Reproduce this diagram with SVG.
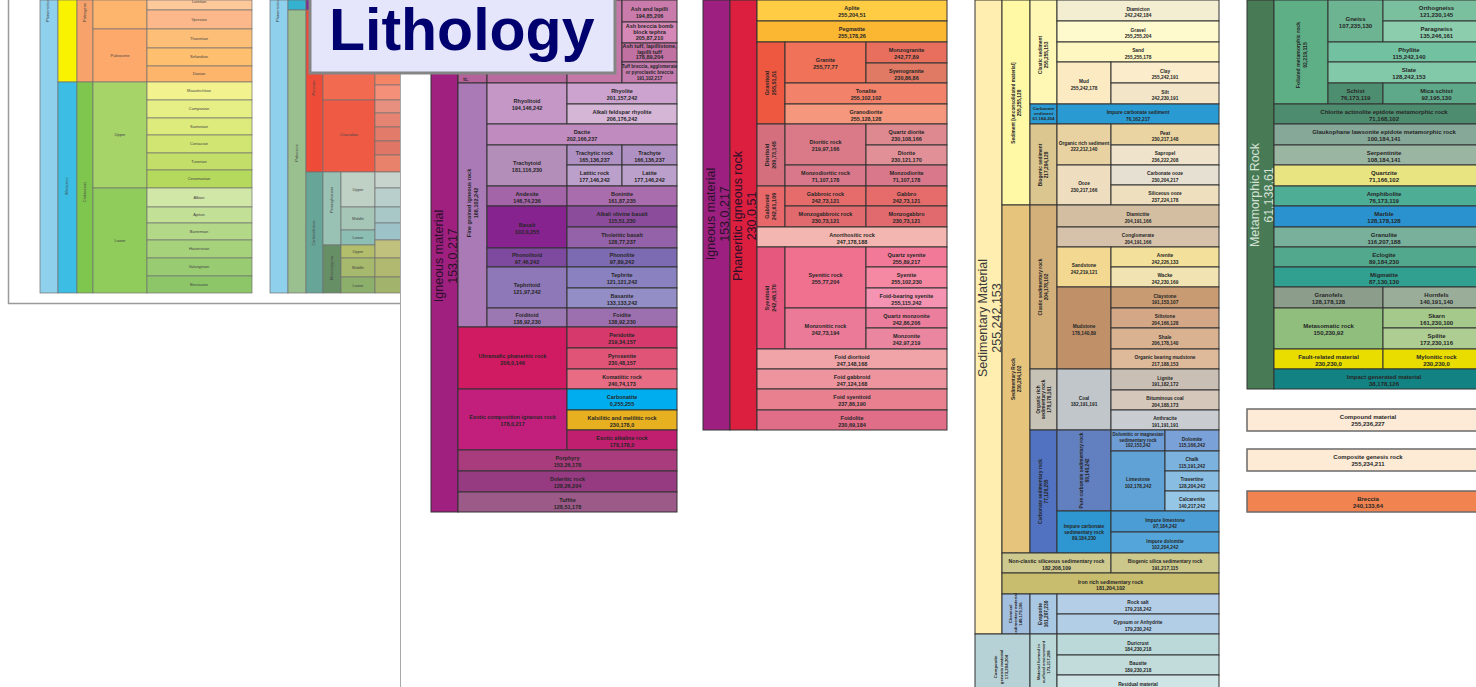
<svg xmlns="http://www.w3.org/2000/svg" width="1476" height="687" viewBox="0 0 1476 687">
<style>
.p rect{stroke:#333;stroke-width:1}
.p text{font-family:'Liberation Sans',Arial,sans-serif;font-weight:bold;fill:#262626;text-anchor:middle}
.s55 text{font-size:5.5px}
.s48 text{font-size:4.8px}
.s6 text{font-size:6px}
.p text.big{font-family:'Liberation Sans',Arial,sans-serif;font-weight:normal;font-size:12.5px;text-anchor:middle;fill:#2a102a}
.ts rect{stroke:#707070;stroke-width:0.7}
.ts text{font-family:'Liberation Sans',Arial,sans-serif;font-size:4px;fill:#444;text-anchor:middle}
.box rect{stroke:#6a6a6a;stroke-width:1.5}
</style>
<rect x="0" y="0" width="1476" height="687" fill="#ffffff"/>

<!-- background timescale pictures -->
<g id="timescale-1" class="ts">
<rect x="40" y="0" width="18" height="293" fill="#8FD0EC"/>
<text transform="translate(49,22) rotate(-90)" style="text-anchor:start">Phanerozoic</text>
<rect x="58" y="0" width="19" height="82" fill="#F9F200"/>
<rect x="58" y="82" width="19" height="211" fill="#3BBDE4"/>
<text transform="translate(68,186) rotate(-90)">Mesozoic</text>
<rect x="77" y="0" width="16" height="82" fill="#F7A26A"/>
<text transform="translate(86,22) rotate(-90)" style="text-anchor:start">Paleogene</text>
<rect x="77" y="82" width="16" height="211" fill="#7FC64E"/>
<text transform="translate(86,192) rotate(-90)">Cretaceous</text>
<rect x="93" y="0" width="54" height="29" fill="#FDB56E"/>
<rect x="93" y="29" width="54" height="53" fill="#FDA96B"/>
<text x="120" y="57">Paleocene</text>
<rect x="93" y="82" width="54" height="106" fill="#A6D468"/>
<text x="120" y="136">Upper</text>
<rect x="93" y="188" width="54" height="105" fill="#8FCC5C"/>
<text x="120" y="242">Lower</text>
<rect x="147" y="0" width="105" height="10" fill="#FDC89A"/>
<text x="199" y="3">Lutetian</text>
<rect x="147" y="10" width="105" height="19" fill="#FCB88A"/>
<text x="199" y="21">Ypresian</text>
<rect x="147" y="29" width="105" height="19" fill="#FDBF77"/>
<text x="199" y="40">Thanetian</text>
<rect x="147" y="48" width="105" height="18" fill="#FEBF6E"/>
<text x="199" y="58">Selandian</text>
<rect x="147" y="66" width="105" height="16" fill="#FDB46B"/>
<text x="199" y="75">Danian</text>
<rect x="147" y="82" width="105" height="18" fill="#F2F28E"/>
<text x="199" y="92">Maastrichtian</text>
<rect x="147" y="100" width="105" height="18" fill="#E6EE86"/>
<text x="199" y="110">Campanian</text>
<rect x="147" y="118" width="105" height="17" fill="#DDEB7C"/>
<text x="199" y="128">Santonian</text>
<rect x="147" y="135" width="105" height="18" fill="#D1E573"/>
<text x="199" y="145">Coniacian</text>
<rect x="147" y="153" width="105" height="17" fill="#C4DF69"/>
<text x="199" y="163">Turonian</text>
<rect x="147" y="170" width="105" height="18" fill="#B5D95C"/>
<text x="199" y="180">Cenomanian</text>
<rect x="147" y="188" width="105" height="19" fill="#D0E7A8"/>
<text x="199" y="199">Albian</text>
<rect x="147" y="207" width="105" height="16" fill="#C2E096"/>
<text x="199" y="216">Aptian</text>
<rect x="147" y="223" width="105" height="17" fill="#B3D888"/>
<text x="199" y="233">Barremian</text>
<rect x="147" y="240" width="105" height="18" fill="#A6D27C"/>
<text x="199" y="250">Hauterivian</text>
<rect x="147" y="258" width="105" height="18" fill="#99CC72"/>
<text x="199" y="268">Valanginian</text>
<rect x="147" y="276" width="105" height="17" fill="#8CC668"/>
<text x="199" y="286">Berriasian</text>
</g>
<g id="timescale-2" class="ts">
<rect x="270" y="0" width="18" height="293" fill="#8FD0EC"/>
<text transform="translate(279,22) rotate(-90)" style="text-anchor:start">Phanerozoic</text>
<rect x="288" y="0" width="18" height="10" fill="#34B2CF"/>
<rect x="288" y="10" width="18" height="283" fill="#9AC08F"/>
<text transform="translate(298,153) rotate(-90)">Paleozoic</text>
<rect x="306" y="0" width="17" height="10" fill="#812B92"/>
<rect x="306" y="10" width="17" height="162" fill="#EE4C38"/>
<text transform="translate(315,88) rotate(-90)">Permian</text>
<rect x="306" y="172" width="17" height="121" fill="#67A599"/>
<text transform="translate(315,233) rotate(-90)">Carboniferous</text>
<rect x="323" y="10" width="52" height="90" fill="#F26A50"/>
<rect x="323" y="100" width="52" height="72" fill="#EF5A44"/>
<text x="349" y="136">Cisuralian</text>
<rect x="375" y="10" width="30" height="75" fill="#F48466"/>
<rect x="375" y="85" width="30" height="15" fill="#F4907A"/>
<rect x="375" y="100" width="30" height="13" fill="#E89080"/>
<rect x="375" y="113" width="30" height="14" fill="#E58473"/>
<rect x="375" y="127" width="30" height="14" fill="#E37B6B"/>
<rect x="375" y="141" width="30" height="14" fill="#E07666"/>
<rect x="375" y="155" width="30" height="17" fill="#E8826B"/>
<rect x="323" y="172" width="18" height="73" fill="#99C2B5"/>
<text transform="translate(333,200) rotate(-90)">Pennsylvanian</text>
<rect x="323" y="245" width="18" height="48" fill="#678F66"/>
<text transform="translate(333,268) rotate(-90)">Mississippian</text>
<rect x="341" y="172" width="34" height="35" fill="#BFD0C5"/>
<text x="358" y="191">Upper</text>
<rect x="341" y="207" width="34" height="23" fill="#A6C7B7"/>
<text x="358" y="220">Middle</text>
<rect x="341" y="230" width="34" height="15" fill="#8CBEB4"/>
<text x="358" y="239">Lower</text>
<rect x="341" y="245" width="34" height="13" fill="#B3BE6C"/>
<text x="358" y="253">Upper</text>
<rect x="341" y="258" width="34" height="19" fill="#A6B96C"/>
<text x="358" y="269">Middle</text>
<rect x="341" y="277" width="34" height="16" fill="#8CB06C"/>
<text x="358" y="287">Lower</text>
<rect x="375" y="172" width="30" height="16" fill="#C7D3CD"/>
<rect x="375" y="188" width="30" height="19" fill="#B8CFCB"/>
<rect x="375" y="207" width="30" height="16" fill="#A8C8C8"/>
<rect x="375" y="223" width="30" height="17" fill="#9DC3C8"/>
<rect x="375" y="240" width="30" height="18" fill="#BFC17D"/>
<rect x="375" y="258" width="30" height="19" fill="#B1B970"/>
<rect x="375" y="277" width="30" height="16" fill="#A2B46C"/>
</g>
<g id="timescale-frame" fill="none" stroke="#9a9a9a" stroke-width="1.5">
<path d="M8.5 0 V303.5 H400.5"/>
</g>
<rect x="401" y="0" width="1075" height="687" fill="#ffffff"/>
<line x1="400.5" y1="70" x2="400.5" y2="687" stroke="#a8a8a8" stroke-width="1"/>

<!-- Igneous panel -->
<g id="igneous-panel" class="p s55">
<g id="igneous-material"><rect x="431" y="0" width="27" height="512" fill="#A0207F"/><text class="big" transform="translate(444.5,256) rotate(-90)"><tspan x="0" y="-1.5">Igneous material</tspan><tspan x="0" y="12">153,0,217</tspan></text></g>
<g id="fragmental"><rect x="458" y="0" width="29" height="83" fill="#B4629A"/><text x="466" y="81" style="font-size:4.5px">tc.</text></g>
<g id="tephra"><rect x="487" y="0" width="80" height="83" fill="#B8699D"/></g>
<g id="pyroclastic-rock"><rect x="567" y="0" width="55" height="83" fill="#C577A8"/></g>
<g id="ash-and-lapilli"><rect x="622" y="0" width="55" height="22" fill="#C97BAB"/><text x="649.5" y="10.5">Ash and lapilli<tspan x="649.5" dy="7">194,85,206</tspan></text></g>
<g id="ash-breccia"><rect x="622" y="22" width="55" height="21" fill="#D588B6"/><text x="649.5" y="28">Ash breccia bomb<tspan x="649.5" dy="6">block tephra</tspan><tspan x="649.5" dy="6">205,87,210</tspan></text></g>
<g id="ash-tuff"><rect x="622" y="43" width="55" height="19" fill="#C170A2"/><text x="649.5" y="48">Ash tuff, lapillistone,<tspan x="649.5" dy="5.5">lapilli tuff</tspan><tspan x="649.5" dy="5.5">178,89,204</tspan></text></g>
<g id="tuff-breccia"><rect x="622" y="62" width="55" height="21" fill="#C47CAE"/><text x="649.5" y="68" style="font-size:4.6px">Tuff breccia, agglomerate<tspan x="649.5" dy="6">or pyroclastic breccia</tspan><tspan x="649.5" dy="6">191,102,217</tspan></text></g>
<g id="fine-grained"><rect x="458" y="83" width="29" height="244" fill="#AA7AB6"/><text transform="translate(472.5,203) rotate(-90)"><tspan x="0" y="-2">Fine grained igneous rock</tspan><tspan x="0" y="5">166,102,242</tspan></text></g>
<g id="rhyolitoid"><rect x="487" y="83" width="80" height="41" fill="#C497C6"/><text x="527" y="103">Rhyolitoid<tspan x="527" dy="7">194,146,242</tspan></text></g>
<g id="rhyolite"><rect x="567" y="83" width="110" height="21" fill="#CBA3CE"/><text x="622" y="93">Rhyolite<tspan x="622" dy="7">201,157,242</tspan></text></g>
<g id="alkali-feldspar-rhyolite"><rect x="567" y="104" width="110" height="20" fill="#D6B6D6"/><text x="622" y="113.5">Alkali feldspar rhyolite<tspan x="622" dy="7">206,176,242</tspan></text></g>
<g id="dacite"><rect x="487" y="124" width="190" height="21" fill="#C08CC0"/><text x="582" y="134">Dacite<tspan x="582" dy="7">202,166,237</tspan></text></g>
<g id="trachytoid"><rect x="487" y="145" width="80" height="41" fill="#B38EB9"/><text x="527" y="165">Trachytoid<tspan x="527" dy="7">181,116,230</tspan></text></g>
<g id="trachytic-rock"><rect x="567" y="145" width="55" height="20" fill="#AE90C2"/><text x="594.5" y="154.5">Trachytic rock<tspan x="594.5" dy="7">165,136,237</tspan></text></g>
<g id="trachyte"><rect x="622" y="145" width="55" height="20" fill="#AE90C2"/><text x="649.5" y="154.5">Trachyte<tspan x="649.5" dy="7">166,136,237</tspan></text></g>
<g id="latitic-rock"><rect x="567" y="165" width="55" height="21" fill="#BCA0CC"/><text x="594.5" y="175">Latitic rock<tspan x="594.5" dy="7">177,146,242</tspan></text></g>
<g id="latite"><rect x="622" y="165" width="55" height="21" fill="#BCA0CC"/><text x="649.5" y="175">Latite<tspan x="649.5" dy="7">177,146,242</tspan></text></g>
<g id="andesite"><rect x="487" y="186" width="80" height="20" fill="#A364A8"/><text x="527" y="195.5">Andesite<tspan x="527" dy="7">146,74,236</tspan></text></g>
<g id="boninite"><rect x="567" y="186" width="110" height="20" fill="#A96CAC"/><text x="622" y="195.5">Boninite<tspan x="622" dy="7">161,87,235</tspan></text></g>
<g id="basalt"><rect x="487" y="206" width="80" height="42" fill="#86238F"/><text x="527" y="226.5">Basalt<tspan x="527" dy="7">102,0,255</tspan></text></g>
<g id="alkali-olivine-basalt"><rect x="567" y="206" width="110" height="21" fill="#8B4C9C"/><text x="622" y="216">Alkali olivine basalt<tspan x="622" dy="7">115,51,230</tspan></text></g>
<g id="tholeiitic-basalt"><rect x="567" y="227" width="110" height="21" fill="#9462A8"/><text x="622" y="237">Tholeiitic basalt<tspan x="622" dy="7">128,77,237</tspan></text></g>
<g id="phonolitoid"><rect x="487" y="248" width="80" height="19" fill="#7E4AA0"/><text x="527" y="257">Phonolitoid<tspan x="527" dy="7">97,46,242</tspan></text></g>
<g id="phonolite"><rect x="567" y="248" width="110" height="19" fill="#7C6AB2"/><text x="622" y="257">Phonolite<tspan x="622" dy="7">97,89,242</tspan></text></g>
<g id="tephritoid"><rect x="487" y="267" width="80" height="41" fill="#8E78B8"/><text x="527" y="287">Tephritoid<tspan x="527" dy="7">121,97,242</tspan></text></g>
<g id="tephrite"><rect x="567" y="267" width="110" height="21" fill="#8A82C0"/><text x="622" y="277">Tephrite<tspan x="622" dy="7">121,121,242</tspan></text></g>
<g id="basanite"><rect x="567" y="288" width="110" height="20" fill="#948EC6"/><text x="622" y="297.5">Basanite<tspan x="622" dy="7">133,133,242</tspan></text></g>
<g id="foiditoid"><rect x="487" y="308" width="80" height="19" fill="#9C78B2"/><text x="527" y="317">Foiditoid<tspan x="527" dy="7">138,92,230</tspan></text></g>
<g id="foidite"><rect x="567" y="308" width="110" height="19" fill="#9C70AE"/><text x="622" y="317">Foidite<tspan x="622" dy="7">138,92,230</tspan></text></g>
<g id="ultramafic"><rect x="458" y="327" width="109" height="62" fill="#D01A62"/><text x="512.5" y="357.5">Ultramafic phaneritic rock<tspan x="512.5" dy="7">206,0,146</tspan></text></g>
<g id="peridotite"><rect x="567" y="327" width="110" height="21" fill="#D63A6C"/><text x="622" y="337">Peridotite<tspan x="622" dy="7">219,34,157</tspan></text></g>
<g id="pyroxenite"><rect x="567" y="348" width="110" height="21" fill="#E05478"/><text x="622" y="358">Pyroxenite<tspan x="622" dy="7">230,48,157</tspan></text></g>
<g id="komatiitic-rock"><rect x="567" y="369" width="110" height="20" fill="#E86C84"/><text x="622" y="378.5">Komatiitic rock<tspan x="622" dy="7">240,74,173</tspan></text></g>
<g id="exotic-composition"><rect x="458" y="389" width="109" height="61" fill="#C21F7C"/><text x="512.5" y="419">Exotic composition igneous rock<tspan x="512.5" dy="7">178,0,217</tspan></text></g>
<g id="carbonatite"><rect x="567" y="389" width="110" height="21" fill="#00AEEF"/><text x="622" y="399">Carbonatite<tspan x="622" dy="7">0,255,255</tspan></text></g>
<g id="kalsilitic"><rect x="567" y="410" width="110" height="20" fill="#E6B020"/><text x="622" y="419.5">Kalsilitic and melilitic rock<tspan x="622" dy="7">230,178,0</tspan></text></g>
<g id="exotic-alkaline"><rect x="567" y="430" width="110" height="20" fill="#C01E6E"/><text x="622" y="439.5">Exotic alkaline rock<tspan x="622" dy="7">178,178,0</tspan></text></g>
<g id="porphyry"><rect x="458" y="450" width="219" height="21" fill="#A83C7C"/><text x="567.5" y="460">Porphyry<tspan x="567.5" dy="7">153,26,178</tspan></text></g>
<g id="doleritic-rock"><rect x="458" y="471" width="219" height="21" fill="#963A82"/><text x="567.5" y="481">Doleritic rock<tspan x="567.5" dy="7">128,26,204</tspan></text></g>
<g id="tuffite"><rect x="458" y="492" width="219" height="20" fill="#9C5A88"/><text x="567.5" y="501.5">Tuffite<tspan x="567.5" dy="7">128,51,178</tspan></text></g>
</g>

<!-- Phaneritic panel -->
<g id="phaneritic-panel" class="p s55">
<g id="igneous-material-2"><rect x="703" y="0" width="27" height="430" fill="#9D2080"/><text class="big" transform="translate(716.5,214) rotate(-90)"><tspan x="0" y="-1.5">Igneous material</tspan><tspan x="0" y="12">153,0,217</tspan></text></g>
<g id="phaneritic-igneous-rock"><rect x="730" y="0" width="27" height="430" fill="#DC1F3E"/><text class="big" transform="translate(743.5,216) rotate(-90)"><tspan x="0" y="-1.5">Phaneritic igneous rock</tspan><tspan x="0" y="12">230,0,51</tspan></text></g>
<g id="aplite"><rect x="757" y="0" width="190" height="21" fill="#FFCC44"/><text x="852" y="10">Aplite<tspan x="852" dy="7">255,204,51</tspan></text></g>
<g id="pegmatite"><rect x="757" y="21" width="190" height="21" fill="#FBB632"/><text x="852" y="31">Pegmatite<tspan x="852" dy="7">255,178,26</tspan></text></g>
<g id="granitoid"><rect x="757" y="42" width="28" height="82" fill="#EE5840"/><text transform="translate(771,83) rotate(-90)"><tspan x="0" y="-2">Granitoid</tspan><tspan x="0" y="5">255,51,51</tspan></text></g>
<g id="granite"><rect x="785" y="42" width="81" height="41" fill="#F07259"/><text x="825.5" y="62">Granite<tspan x="825.5" dy="7">255,77,77</tspan></text></g>
<g id="monzogranite"><rect x="866" y="42" width="81" height="21" fill="#E86F5E"/><text x="906.5" y="52">Monzogranite<tspan x="906.5" dy="7">242,77,89</tspan></text></g>
<g id="syenogranite"><rect x="866" y="63" width="81" height="20" fill="#E07A64"/><text x="906.5" y="72.5">Syenogranite<tspan x="906.5" dy="7">230,86,86</tspan></text></g>
<g id="tonalite"><rect x="785" y="83" width="162" height="21" fill="#F2826A"/><text x="866" y="93">Tonalite<tspan x="866" dy="7">255,102,102</tspan></text></g>
<g id="granodiorite"><rect x="785" y="104" width="162" height="20" fill="#F5977C"/><text x="866" y="113.5">Granodiorite<tspan x="866" dy="7">255,128,128</tspan></text></g>
<g id="dioritoid"><rect x="757" y="124" width="28" height="62" fill="#D4707E"/><text transform="translate(771,155) rotate(-90)"><tspan x="0" y="-2">Dioritoid</tspan><tspan x="0" y="5">209,73,145</tspan></text></g>
<g id="dioritic-rock"><rect x="785" y="124" width="81" height="41" fill="#DA7A88"/><text x="825.5" y="144">Dioritic rock<tspan x="825.5" dy="7">219,97,166</tspan></text></g>
<g id="quartz-diorite"><rect x="866" y="124" width="81" height="21" fill="#DE8890"/><text x="906.5" y="134">Quartz diorite<tspan x="906.5" dy="7">230,108,166</tspan></text></g>
<g id="diorite"><rect x="866" y="145" width="81" height="20" fill="#E29098"/><text x="906.5" y="154.5">Diorite<tspan x="906.5" dy="7">230,121,170</tspan></text></g>
<g id="monzodioritic-rock"><rect x="785" y="165" width="81" height="21" fill="#D8788A"/><text x="825.5" y="175">Monzodioritic rock<tspan x="825.5" dy="7">71,107,178</tspan></text></g>
<g id="monzodiorite"><rect x="866" y="165" width="81" height="21" fill="#D8788A"/><text x="906.5" y="175">Monzodiorite<tspan x="906.5" dy="7">71,107,178</tspan></text></g>
<g id="gabbroid"><rect x="757" y="186" width="28" height="41" fill="#E8686A"/><text transform="translate(771,206.5) rotate(-90)"><tspan x="0" y="-2">Gabbroid</tspan><tspan x="0" y="5">242,61,109</tspan></text></g>
<g id="gabbroic-rock"><rect x="785" y="186" width="81" height="20" fill="#E66C6C"/><text x="825.5" y="195.5">Gabbroic rock<tspan x="825.5" dy="7">242,73,121</tspan></text></g>
<g id="gabbro"><rect x="866" y="186" width="81" height="20" fill="#E66C6C"/><text x="906.5" y="195.5">Gabbro<tspan x="906.5" dy="7">242,73,121</tspan></text></g>
<g id="monzogabbroic-rock"><rect x="785" y="206" width="81" height="21" fill="#E06A6E"/><text x="825.5" y="216">Monzogabbroic rock<tspan x="825.5" dy="7">230,73,121</tspan></text></g>
<g id="monzogabbro"><rect x="866" y="206" width="81" height="21" fill="#E06A6E"/><text x="906.5" y="216">Monzogabbro<tspan x="906.5" dy="7">230,73,121</tspan></text></g>
<g id="anorthositic-rock"><rect x="757" y="227" width="190" height="20" fill="#F4B6B0"/><text x="852" y="236.5">Anorthositic rock<tspan x="852" dy="7">247,178,188</tspan></text></g>
<g id="syenitoid"><rect x="757" y="247" width="28" height="102" fill="#E6587E"/><text transform="translate(771,298) rotate(-90)"><tspan x="0" y="-2">Syenitoid</tspan><tspan x="0" y="5">242,48,170</tspan></text></g>
<g id="syenitic-rock"><rect x="785" y="247" width="81" height="61" fill="#F07090"/><text x="825.5" y="277">Syenitic rock<tspan x="825.5" dy="7">255,77,204</tspan></text></g>
<g id="quartz-syenite"><rect x="866" y="247" width="81" height="20" fill="#F27A98"/><text x="906.5" y="256.5">Quartz syenite<tspan x="906.5" dy="7">255,89,217</tspan></text></g>
<g id="syenite"><rect x="866" y="267" width="81" height="21" fill="#F588A2"/><text x="906.5" y="277">Syenite<tspan x="906.5" dy="7">255,102,230</tspan></text></g>
<g id="foid-bearing-syenite"><rect x="866" y="288" width="81" height="20" fill="#F594B2"/><text x="906.5" y="297.5">Foid-bearing syenite<tspan x="906.5" dy="7">255,115,242</tspan></text></g>
<g id="monzonitic-rock"><rect x="785" y="308" width="81" height="41" fill="#EA7A98"/><text x="825.5" y="328">Monzonitic rock<tspan x="825.5" dy="7">242,73,194</tspan></text></g>
<g id="quartz-monzonite"><rect x="866" y="308" width="81" height="20" fill="#EA7E9C"/><text x="906.5" y="317.5">Quartz monzonite<tspan x="906.5" dy="7">242,86,206</tspan></text></g>
<g id="monzonite"><rect x="866" y="328" width="81" height="21" fill="#EA86A0"/><text x="906.5" y="338">Monzonite<tspan x="906.5" dy="7">242,97,219</tspan></text></g>
<g id="foid-dioritoid"><rect x="757" y="349" width="190" height="20" fill="#F0A4A8"/><text x="852" y="358.5">Foid dioritoid<tspan x="852" dy="7">247,148,168</tspan></text></g>
<g id="foid-gabbroid"><rect x="757" y="369" width="190" height="20" fill="#EE949E"/><text x="852" y="378.5">Foid gabbroid<tspan x="852" dy="7">247,124,168</tspan></text></g>
<g id="foid-syenitoid"><rect x="757" y="389" width="190" height="21" fill="#E98090"/><text x="852" y="399">Foid syenitoid<tspan x="852" dy="7">237,86,190</tspan></text></g>
<g id="foidolite"><rect x="757" y="410" width="190" height="20" fill="#E06E88"/><text x="852" y="419.5">Foidolite<tspan x="852" dy="7">230,69,184</tspan></text></g>
</g>

<!-- Sedimentary panel -->
<g id="sedimentary-panel" class="p s48">
<g id="sedimentary-material"><rect x="975" y="0" width="27" height="634" fill="#FFEEB0"/><text class="big" transform="translate(988.5,318) rotate(-90)" style="fill:#3a3a3a"><tspan x="0" y="-1.5">Sedimentary Material</tspan><tspan x="0" y="12">255,242,153</tspan></text></g>
<g id="sediment"><rect x="1002" y="0" width="28" height="205" fill="#FFF8A4"/><text transform="translate(1016,103) rotate(-90)"><tspan x="0" y="-1.5">Sediment [unconsolidated material]</tspan><tspan x="0" y="4.5">255,255,128</tspan></text></g>
<g id="clastic-sediment"><rect x="1030" y="0" width="27" height="104" fill="#FFF8B4"/><text transform="translate(1043.5,55) rotate(-90)"><tspan x="0" y="-1.5">Clastic sediment</tspan><tspan x="0" y="4.5">255,255,153</tspan></text></g>
<g id="diamicton"><rect x="1057" y="0" width="162" height="21" fill="#F3EED2"/><text x="1138" y="10.5">Diamicton<tspan x="1138" dy="6.5">242,242,184</tspan></text></g>
<g id="gravel"><rect x="1057" y="21" width="162" height="21" fill="#FFF9CE"/><text x="1138" y="31.5">Gravel<tspan x="1138" dy="6.5">255,255,204</tspan></text></g>
<g id="sand"><rect x="1057" y="42" width="162" height="20" fill="#FFF7C2"/><text x="1138" y="52">Sand<tspan x="1138" dy="6.5">255,255,178</tspan></text></g>
<g id="mud"><rect x="1057" y="62" width="54" height="42" fill="#FCEBC2"/><text x="1084" y="83">Mud<tspan x="1084" dy="6.5">255,242,178</tspan></text></g>
<g id="clay"><rect x="1111" y="62" width="108" height="21" fill="#FBEDCB"/><text x="1165" y="72.5">Clay<tspan x="1165" dy="6.5">255,242,191</tspan></text></g>
<g id="silt"><rect x="1111" y="83" width="108" height="21" fill="#F3E5C8"/><text x="1165" y="93.5">Silt<tspan x="1165" dy="6.5">242,230,191</tspan></text></g>
<g id="carbonate-sediment"><rect x="1030" y="104" width="27" height="20" fill="#2A9BD2"/><text x="1043.5" y="109.5" style="font-size:4.4px">Carbonate<tspan x="1043.5" dy="5.3">sediment</tspan><tspan x="1043.5" dy="5.3">61,184,204</tspan></text></g>
<g id="impure-carbonate-sediment"><rect x="1057" y="104" width="162" height="20" fill="#2A9BD2"/><text x="1138" y="114">Impure carbonate sediment<tspan x="1138" dy="6.5">76,162,217</tspan></text></g>
<g id="biogenic-sediment"><rect x="1030" y="124" width="27" height="81" fill="#DCC690"/><text transform="translate(1043.5,165) rotate(-90)"><tspan x="0" y="-1.5">Biogenic sediment</tspan><tspan x="0" y="4.5">217,204,128</tspan></text></g>
<g id="organic-rich-sediment"><rect x="1057" y="124" width="54" height="41" fill="#E8D2A2"/><text x="1084" y="144.5">Organic rich sediment<tspan x="1084" dy="6.5">222,212,140</tspan></text></g>
<g id="peat"><rect x="1111" y="124" width="108" height="21" fill="#E9D4A2"/><text x="1165" y="134.5">Peat<tspan x="1165" dy="6.5">230,217,148</tspan></text></g>
<g id="sapropel"><rect x="1111" y="145" width="108" height="20" fill="#F0E3CB"/><text x="1165" y="155">Sapropel<tspan x="1165" dy="6.5">236,222,208</tspan></text></g>
<g id="ooze"><rect x="1057" y="165" width="54" height="40" fill="#EEDDBE"/><text x="1084" y="185">Ooze<tspan x="1084" dy="6.5">230,217,166</tspan></text></g>
<g id="carbonate-ooze"><rect x="1111" y="165" width="108" height="20" fill="#E6E0D2"/><text x="1165" y="175">Carbonate ooze<tspan x="1165" dy="6.5">230,204,217</tspan></text></g>
<g id="siliceous-ooze"><rect x="1111" y="185" width="108" height="20" fill="#EEE0BE"/><text x="1165" y="195">Siliceous ooze<tspan x="1165" dy="6.5">237,224,178</tspan></text></g>
<g id="sedimentary-rock"><rect x="1002" y="205" width="28" height="348" fill="#E7C47C"/><text transform="translate(1016,379) rotate(-90)"><tspan x="0" y="-1.5">Sedimentary Rock</tspan><tspan x="0" y="4.5">230,204,102</tspan></text></g>
<g id="clastic-sedimentary-rock"><rect x="1030" y="205" width="27" height="164" fill="#D3B07A"/><text transform="translate(1043.5,287) rotate(-90)"><tspan x="0" y="-1.5">Clastic sedimentary rock</tspan><tspan x="0" y="4.5">204,178,102</tspan></text></g>
<g id="diamictite"><rect x="1057" y="205" width="162" height="22" fill="#D3BEA2"/><text x="1138" y="216">Diamictite<tspan x="1138" dy="6.5">204,191,166</tspan></text></g>
<g id="conglomerate"><rect x="1057" y="227" width="162" height="20" fill="#D6C2AA"/><text x="1138" y="237">Conglomerate<tspan x="1138" dy="6.5">204,191,166</tspan></text></g>
<g id="sandstone"><rect x="1057" y="247" width="54" height="40" fill="#F2D890"/><text x="1084" y="267">Sandstone<tspan x="1084" dy="6.5">242,219,121</tspan></text></g>
<g id="arenite"><rect x="1111" y="247" width="108" height="20" fill="#F3E09A"/><text x="1165" y="257">Arenite<tspan x="1165" dy="6.5">242,226,133</tspan></text></g>
<g id="wacke"><rect x="1111" y="267" width="108" height="20" fill="#F2E4B2"/><text x="1165" y="277">Wacke<tspan x="1165" dy="6.5">242,230,169</tspan></text></g>
<g id="mudstone"><rect x="1057" y="287" width="54" height="82" fill="#C09069"/><text x="1084" y="328">Mudstone<tspan x="1084" dy="6.5">178,140,89</tspan></text></g>
<g id="claystone"><rect x="1111" y="287" width="108" height="21" fill="#C99B72"/><text x="1165" y="297.5">Claystone<tspan x="1165" dy="6.5">191,153,107</tspan></text></g>
<g id="siltstone"><rect x="1111" y="308" width="108" height="20" fill="#D4A886"/><text x="1165" y="318">Siltstone<tspan x="1165" dy="6.5">204,166,128</tspan></text></g>
<g id="shale"><rect x="1111" y="328" width="108" height="21" fill="#D9B292"/><text x="1165" y="338.5">Shale<tspan x="1165" dy="6.5">206,178,140</tspan></text></g>
<g id="organic-bearing-mudstone"><rect x="1111" y="349" width="108" height="20" fill="#DEB99A"/><text x="1165" y="359">Organic bearing mudstone<tspan x="1165" dy="6.5">217,188,153</tspan></text></g>
<g id="organic-rich-sedimentary-rock"><rect x="1030" y="369" width="27" height="61" fill="#C6C2B6"/><text transform="translate(1043.5,399.5) rotate(-90)"><tspan x="0" y="-4">Organic rich</tspan><tspan x="0" y="1.5">sedimentary rock</tspan><tspan x="0" y="7">178,178,161</tspan></text></g>
<g id="coal"><rect x="1057" y="369" width="54" height="61" fill="#C0C6CA"/><text x="1084" y="399.5">Coal<tspan x="1084" dy="6.5">182,191,191</tspan></text></g>
<g id="lignite"><rect x="1111" y="369" width="108" height="21" fill="#CABFB5"/><text x="1165" y="379.5">Lignite<tspan x="1165" dy="6.5">191,182,172</tspan></text></g>
<g id="bituminous-coal"><rect x="1111" y="390" width="108" height="20" fill="#D5C7BA"/><text x="1165" y="400">Bituminous coal<tspan x="1165" dy="6.5">204,188,173</tspan></text></g>
<g id="anthracite"><rect x="1111" y="410" width="108" height="20" fill="#C9CDD2"/><text x="1165" y="420">Anthracite<tspan x="1165" dy="6.5">191,191,191</tspan></text></g>
<g id="carbonate-sedimentary-rock"><rect x="1030" y="430" width="27" height="123" fill="#5072C0"/><text transform="translate(1043.5,491.5) rotate(-90)"><tspan x="0" y="-1.5">Carbonate sedimentary rock</tspan><tspan x="0" y="4.5">77,128,255</tspan></text></g>
<g id="pure-carbonate-sedimentary-rock"><rect x="1057" y="430" width="54" height="81" fill="#6280C0"/><text transform="translate(1084,470.5) rotate(-90)"><tspan x="0" y="-1.5">Pure carbonate sedimentary rock</tspan><tspan x="0" y="4.5">89,140,242</tspan></text></g>
<g id="dolomitic-rock"><rect x="1111" y="430" width="54" height="21" fill="#6E9CD4"/><text x="1138" y="436" style="font-size:4.5px">Dolomitic or magnesian<tspan x="1138" dy="5.5">sedimentary rock</tspan><tspan x="1138" dy="5.5">102,153,242</tspan></text></g>
<g id="dolomite"><rect x="1165" y="430" width="54" height="21" fill="#7AA2D8"/><text x="1192" y="440.5">Dolomite<tspan x="1192" dy="6.5">115,166,242</tspan></text></g>
<g id="limestone"><rect x="1111" y="451" width="54" height="60" fill="#60A2D6"/><text x="1138" y="481">Limestone<tspan x="1138" dy="6.5">102,178,242</tspan></text></g>
<g id="chalk"><rect x="1165" y="451" width="54" height="20" fill="#7CB2DE"/><text x="1192" y="461">Chalk<tspan x="1192" dy="6.5">115,191,242</tspan></text></g>
<g id="travertine"><rect x="1165" y="471" width="54" height="20" fill="#8ABDE2"/><text x="1192" y="481">Travertine<tspan x="1192" dy="6.5">128,204,242</tspan></text></g>
<g id="calcarenite"><rect x="1165" y="491" width="54" height="20" fill="#96C6E6"/><text x="1192" y="501">Calcarenite<tspan x="1192" dy="6.5">140,217,242</tspan></text></g>
<g id="impure-carbonate-sedimentary-rock"><rect x="1057" y="511" width="54" height="42" fill="#2E96D0"/><text x="1084" y="528">Impure carbonate<tspan x="1084" dy="6">sedimentary rock</tspan><tspan x="1084" dy="6">89,184,230</tspan></text></g>
<g id="impure-limestone"><rect x="1111" y="511" width="108" height="21" fill="#4B9DD5"/><text x="1165" y="521.5">Impure limestone<tspan x="1165" dy="6.5">97,184,242</tspan></text></g>
<g id="impure-dolomite"><rect x="1111" y="532" width="108" height="21" fill="#54A6DA"/><text x="1165" y="542.5">Impure dolomite<tspan x="1165" dy="6.5">102,204,242</tspan></text></g>
<g id="non-clastic-siliceous"><rect x="1002" y="553" width="109" height="20" fill="#CDC98F"/><text x="1056.5" y="563" style="font-size:5.2px">Non-clastic siliceous sedimentary rock<tspan x="1056.5" dy="6.5">182,208,109</tspan></text></g>
<g id="biogenic-silica"><rect x="1111" y="553" width="108" height="20" fill="#CCC88C"/><text x="1165" y="563">Biogenic silica sedimentary rock<tspan x="1165" dy="6.5">191,217,115</tspan></text></g>
<g id="iron-rich"><rect x="1002" y="573" width="217" height="21" fill="#C8BC6E"/><text x="1110.5" y="583.5" style="font-size:5.2px">Iron rich sedimentary rock<tspan x="1110.5" dy="6.5">181,204,102</tspan></text></g>
<g id="chemical-sedimentary-material"><rect x="1002" y="594" width="28" height="40" fill="#A3BFE0"/><text transform="translate(1016,614) rotate(-90)" style="font-size:4.2px"><tspan x="0" y="-4">Chemical</tspan><tspan x="0" y="1.2">sedimentary material</tspan><tspan x="0" y="6.4">140,179,196</tspan></text></g>
<g id="evaporite"><rect x="1030" y="594" width="27" height="40" fill="#A9C8E4"/><text transform="translate(1043.5,614) rotate(-90)"><tspan x="0" y="-1.5">Evaporite</tspan><tspan x="0" y="4.5">161,207,230</tspan></text></g>
<g id="rock-salt"><rect x="1057" y="594" width="162" height="20" fill="#B5CEE8"/><text x="1138" y="604">Rock salt<tspan x="1138" dy="6.5">179,218,242</tspan></text></g>
<g id="gypsum"><rect x="1057" y="614" width="162" height="20" fill="#B2CDE6"/><text x="1138" y="624">Gypsum or Anhydrite<tspan x="1138" dy="6.5">179,230,242</tspan></text></g>
<g id="composite-genesis-material"><rect x="975" y="634" width="55" height="66" fill="#B7D2D6"/><text transform="translate(1001,667) rotate(-90)" style="font-size:4.4px"><tspan x="0" y="-4">Composite</tspan><tspan x="0" y="1.5">genesis material</tspan><tspan x="0" y="7">173,204,204</tspan></text></g>
<g id="surficial-material"><rect x="1030" y="634" width="27" height="66" fill="#BBD8D8"/><text transform="translate(1043.5,662) rotate(-90)" style="font-size:4.2px"><tspan x="0" y="-4">Material formed in</tspan><tspan x="0" y="1.2">surficial environment</tspan><tspan x="0" y="6.4">173,217,208</tspan></text></g>
<g id="duricrust"><rect x="1057" y="634" width="162" height="21" fill="#BCD9D9"/><text x="1138" y="644.5">Duricrust<tspan x="1138" dy="6.5">184,230,218</tspan></text></g>
<g id="bauxite"><rect x="1057" y="655" width="162" height="20" fill="#C2DCDC"/><text x="1138" y="665">Bauxite<tspan x="1138" dy="6.5">189,230,218</tspan></text></g>
<g id="residual-material"><rect x="1057" y="675" width="162" height="21" fill="#CFE4E4"/><text x="1138" y="685.5">Residual material</text></g>
</g>

<!-- Metamorphic panel -->
<g id="metamorphic-panel" class="p s6">
<g id="metamorphic-rock"><rect x="1247" y="0" width="27" height="389" fill="#487A55"/><text class="big" transform="translate(1260.5,195) rotate(-90)" style="fill:#d6e2d6"><tspan x="0" y="-1.5">Metamorphic Rock</tspan><tspan x="0" y="12">61,138,61</tspan></text></g>
<g id="foliated"><rect x="1274" y="0" width="54" height="104" fill="#5EAE86"/><text transform="translate(1302,55) rotate(-90)" style="font-size:5.2px"><tspan x="0" y="-2">Foliated metamorphic rock</tspan><tspan x="0" y="5">92,219,115</tspan></text></g>
<g id="gneiss"><rect x="1328" y="0" width="55" height="42" fill="#6DB592"/><text x="1355.5" y="20.5">Gneiss<tspan x="1355.5" dy="7">107,235,130</tspan></text></g>
<g id="orthogneiss"><rect x="1383" y="0" width="107" height="21" fill="#7AC09E"/><text x="1436.5" y="10">Orthogneiss<tspan x="1436.5" dy="7">121,230,145</tspan></text></g>
<g id="paragneiss"><rect x="1383" y="21" width="107" height="21" fill="#8BCDAC"/><text x="1436.5" y="31">Paragneiss<tspan x="1436.5" dy="7">135,246,161</tspan></text></g>
<g id="phyllite"><rect x="1328" y="42" width="162" height="20" fill="#72C2A2"/><text x="1409" y="51.5">Phyllite<tspan x="1409" dy="7">115,242,140</tspan></text></g>
<g id="slate"><rect x="1328" y="62" width="162" height="21" fill="#82C9AA"/><text x="1409" y="72">Slate<tspan x="1409" dy="7">128,242,153</tspan></text></g>
<g id="schist"><rect x="1328" y="83" width="55" height="21" fill="#4E8E70"/><text x="1355.5" y="93">Schist<tspan x="1355.5" dy="7">76,173,119</tspan></text></g>
<g id="mica-schist"><rect x="1383" y="83" width="107" height="21" fill="#5EA98A"/><text x="1436.5" y="93">Mica schist<tspan x="1436.5" dy="7">92,195,130</tspan></text></g>
<g id="chlorite"><rect x="1274" y="104" width="216" height="20" fill="#4D8C6E"/><text x="1384" y="113.5">Chlorite actinolite epidote metamorphic rock<tspan x="1384" dy="7">71,168,102</tspan></text></g>
<g id="glaukophane"><rect x="1274" y="124" width="216" height="21" fill="#86A898"/><text x="1384" y="134">Glaukophane lawsonite epidote metamorphic rock<tspan x="1384" dy="7">100,184,141</tspan></text></g>
<g id="serpentinite"><rect x="1274" y="145" width="216" height="20" fill="#9AB5A2"/><text x="1384" y="154.5">Serpentinite<tspan x="1384" dy="7">108,184,141</tspan></text></g>
<g id="quartzite"><rect x="1274" y="165" width="216" height="21" fill="#E8E482"/><text x="1384" y="175">Quartzite<tspan x="1384" dy="7">71,166,102</tspan></text></g>
<g id="amphibolite"><rect x="1274" y="186" width="216" height="20" fill="#4DAD95"/><text x="1384" y="195.5">Amphibolite<tspan x="1384" dy="7">76,173,119</tspan></text></g>
<g id="marble"><rect x="1274" y="206" width="216" height="21" fill="#2A92CE"/><text x="1384" y="216">Marble<tspan x="1384" dy="7">128,178,128</tspan></text></g>
<g id="granulite"><rect x="1274" y="227" width="216" height="20" fill="#78B09C"/><text x="1384" y="236.5">Granulite<tspan x="1384" dy="7">116,207,188</tspan></text></g>
<g id="eclogite"><rect x="1274" y="247" width="216" height="20" fill="#52A88C"/><text x="1384" y="256.5">Eclogite<tspan x="1384" dy="7">89,184,230</tspan></text></g>
<g id="migmatite"><rect x="1274" y="267" width="216" height="20" fill="#31A090"/><text x="1384" y="276.5">Migmatite<tspan x="1384" dy="7">87,130,130</tspan></text></g>
<g id="granofels"><rect x="1274" y="287" width="109" height="21" fill="#8C9D8C"/><text x="1328.5" y="297">Granofels<tspan x="1328.5" dy="7">128,178,128</tspan></text></g>
<g id="hornfels"><rect x="1383" y="287" width="107" height="21" fill="#99AD99"/><text x="1436.5" y="297">Hornfels<tspan x="1436.5" dy="7">140,191,140</tspan></text></g>
<g id="metasomatic"><rect x="1274" y="308" width="109" height="41" fill="#8FBE7D"/><text x="1328.5" y="328">Metasomatic rock<tspan x="1328.5" dy="7">150,230,92</tspan></text></g>
<g id="skarn"><rect x="1383" y="308" width="107" height="20" fill="#A4C98A"/><text x="1436.5" y="317.5">Skarn<tspan x="1436.5" dy="7">161,230,100</tspan></text></g>
<g id="spilite"><rect x="1383" y="328" width="107" height="21" fill="#AECD92"/><text x="1436.5" y="338">Spilite<tspan x="1436.5" dy="7">172,230,116</tspan></text></g>
<g id="fault-related"><rect x="1274" y="349" width="109" height="20" fill="#E9DD00"/><text x="1328.5" y="358.5">Fault-related material<tspan x="1328.5" dy="7">230,230,0</tspan></text></g>
<g id="mylonitic"><rect x="1383" y="349" width="107" height="20" fill="#E9DD00"/><text x="1436.5" y="358.5">Mylonitic rock<tspan x="1436.5" dy="7">230,230,0</tspan></text></g>
<g id="impact"><rect x="1274" y="369" width="216" height="20" fill="#138282"/><text x="1384" y="378.5">Impact generated material<tspan x="1384" dy="7">38,178,126</tspan></text></g>
</g>

<!-- standalone materials -->
<g id="standalone" class="p s6 box">
<g id="compound-material"><rect x="1247" y="409" width="245" height="22" fill="#FDEBD8"/><text x="1368" y="419">Compound material<tspan x="1368" dy="7">255,236,227</tspan></text></g>
<g id="composite-genesis-rock"><rect x="1247" y="449" width="245" height="22" fill="#FDEBD6"/><text x="1368" y="459">Composite genesis rock<tspan x="1368" dy="7">255,234,211</tspan></text></g>
<g id="breccia"><rect x="1247" y="491" width="245" height="21" fill="#F08350"/><text x="1368" y="500.5">Breccia<tspan x="1368" dy="7">240,133,64</tspan></text></g>
</g>

<g id="connectors"></g>

<!-- title -->
<g id="title">
<rect x="310" y="-5" width="305" height="78" fill="#E5E5FB" stroke="#858585" stroke-width="3"/>
<text x="329" y="50" font-family="'Liberation Sans',Arial,sans-serif" font-weight="bold" font-size="59" fill="#00006E">Lithology</text>
</g>
</svg>
